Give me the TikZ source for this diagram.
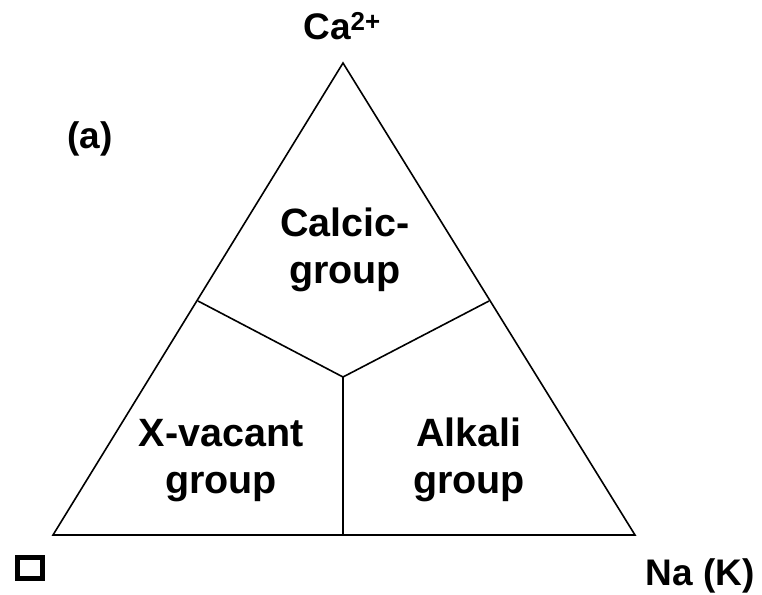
\documentclass[tikz,border=0pt]{standalone}
\usepackage{fontspec}
\setmainfont{Liberation Sans}
\begin{document}
\begin{tikzpicture}[x=1pt,y=-1pt,
  edge/.style={line width=1.6pt,black},
  lbl/.style={font=\bfseries\fontsize{37}{47}\selectfont,align=center,inner sep=0pt,anchor=base},
  inlbl/.style={lbl,font=\bfseries\fontsize{39.5}{47}\selectfont}]
\useasboundingbox (0,0) rectangle (762,594);
\coordinate (top) at (343,63);
\coordinate (bl) at (53,535);
\coordinate (br) at (635,535);
\coordinate (mid) at (343,377);
\coordinate (ml) at (198,301);
\coordinate (mr) at (489,301);
\coordinate (mb) at (343,535);
\draw[edge,line join=miter] (top) -- (bl) -- (br) -- cycle;
\draw[edge] (ml) -- (mid) -- (mr);
\draw[edge] (mid) -- (mb);
\node[lbl] (ca) at (342,40) {Ca\textsuperscript{2+}};
\node[lbl] (a) at (90,148) {(a)};
\node[inlbl] (calcic) at (345,283) {Calcic-\\group};
\node[inlbl] (xvac) at (221,493) {X-vacant\\group};
\node[inlbl] (alk) at (469,493) {Alkali\\group};
\node[lbl] (na) at (700,585) {Na (K)};
\node[draw,line width=5pt,minimum width=25pt,minimum height=21pt,inner sep=0pt] (vac) at (30,568) {};
\end{tikzpicture}
\end{document}
